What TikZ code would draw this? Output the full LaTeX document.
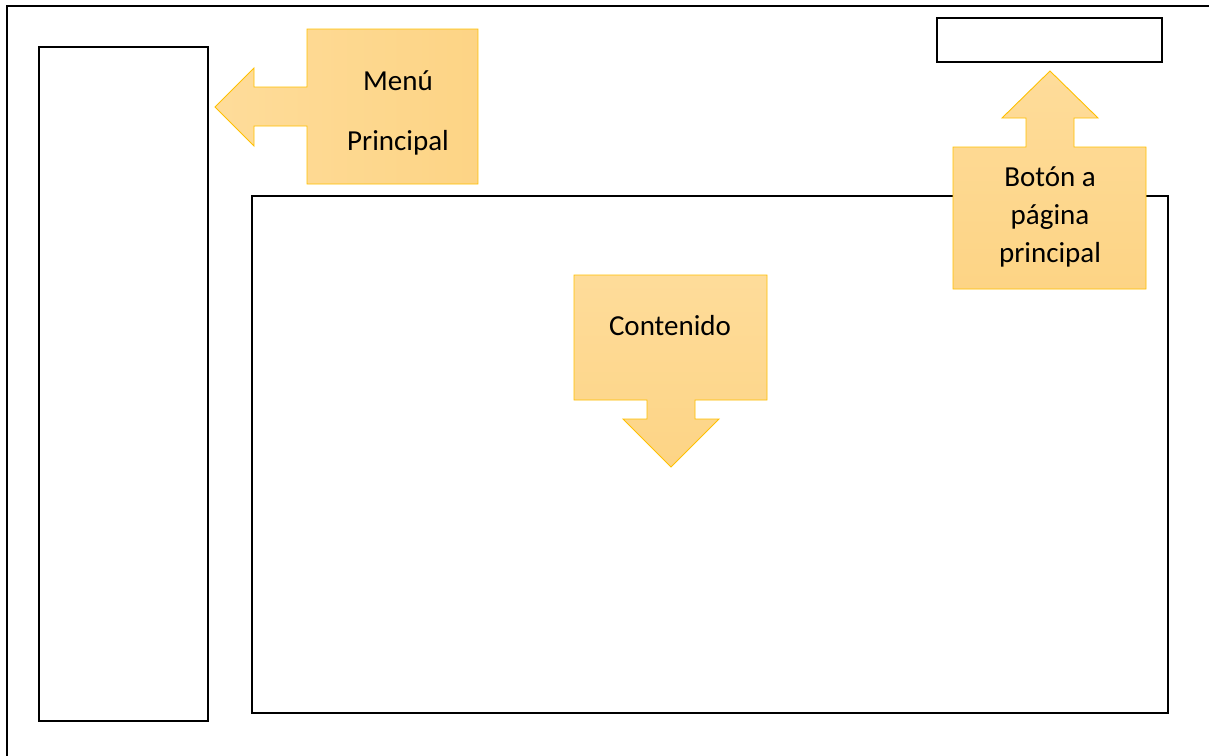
\documentclass[tikz,border=0pt]{standalone}
\usepackage{fontspec}
\setmainfont{Carlito}
\definecolor{calloutline}{HTML}{FFC000}
\definecolor{calloutlight}{HTML}{FEDC9A}
\definecolor{calloutdark}{HTML}{FDD485}
\tikzset{
  frameline/.style={draw=black, line width=2.4pt},
  panel/.style={draw=black, line width=2.3pt, fill=white, inner sep=0pt},
  callout/.style={draw=calloutline, line width=0.9pt, line join=miter},
  calloutv/.style={callout, top color=calloutlight, bottom color=calloutdark},
  callouth/.style={callout, left color=calloutlight, right color=calloutdark},
  label/.style={font=\fontsize{29}{38}\selectfont, align=center, inner sep=0pt, text=black},
}
\begin{document}
\begin{tikzpicture}[x=1pt, y=-1pt]
  \useasboundingbox (0,0) rectangle (1209,755);

  % page frame (right and bottom edges run past the page)
  \coordinate (frameBL) at (7,760);
  \coordinate (frameTL) at (7,6);
  \coordinate (frameTR) at (1215,6);
  \draw[frameline] (frameBL) -- (frameTL) -- (frameTR);

  % layout blocks
  \node[panel, minimum width=169pt, minimum height=674pt, anchor=north west] (sidebar) at (38,46) {};
  \node[panel, minimum width=916pt, minimum height=517pt, anchor=north west] (content) at (251,195) {};
  \node[panel, minimum width=225pt, minimum height=44pt, anchor=north west] (homebtn) at (936,17) {};

  % callout: main menu, pointing left
  \path[callouth] (307,29) -- (478,29) -- (478,184) -- (307,184) -- (307,126)
    -- (254,126) -- (254,146) -- (215,107) -- (254,68) -- (254,87) -- (307,87) -- cycle;
  \node[label, font=\fontsize{29}{60}\selectfont] (menuText) at (398,113) {Menú\\Principal};

  % callout: home button, pointing up
  \path[calloutv] (953,147) -- (1026,147) -- (1026,118) -- (1002,118) -- (1050,71)
    -- (1098,118) -- (1074,118) -- (1074,147) -- (1146,147) -- (1146,289) -- (953,289) -- cycle;
  \node[label] (homeText) at (1050,217) {Botón a\\página\\principal};

  % callout: content area, pointing down
  \path[calloutv] (574,275) -- (767,275) -- (767,400) -- (695,400) -- (695,419)
    -- (719,419) -- (671,467) -- (623,419) -- (647,419) -- (647,400) -- (574,400) -- cycle;
  \node[label] (contentText) at (670,326) {Contenido};
\end{tikzpicture}
\end{document}
